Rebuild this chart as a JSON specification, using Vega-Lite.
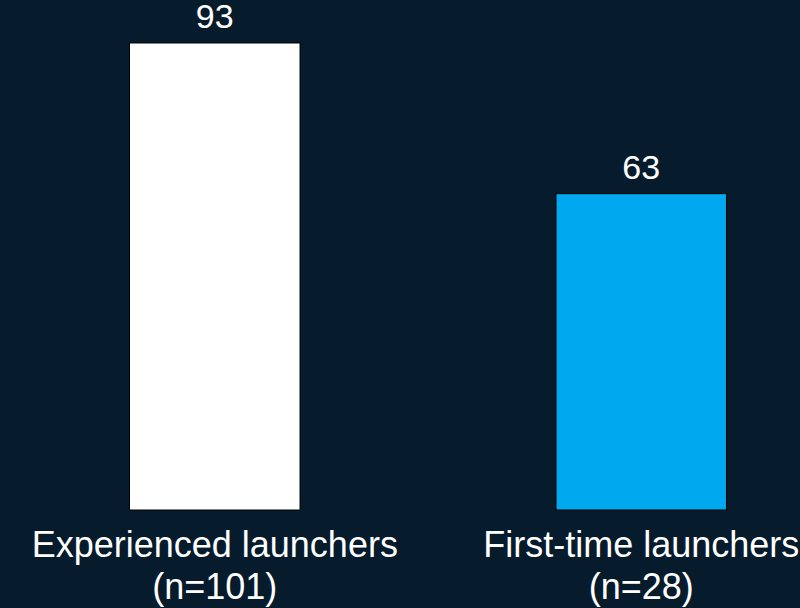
{
  "$schema": "https://vega.github.io/schema/vega-lite/v6.json",
  "width": 800,
  "height": 510,
  "autosize": "none",
  "padding": {"left": 0, "top": 0, "right": 0, "bottom": 98},
  "background": "#061b2b",
  "config": {"view": {"stroke": null}, "font": "Liberation Sans"},
  "data": {
    "values": [
      {"group": "Experienced launchers\n(n=101)", "value": 93},
      {"group": "First-time launchers\n(n=28)", "value": 63}
    ]
  },
  "encoding": {
    "x": {
      "field": "group",
      "type": "nominal",
      "sort": null,
      "scale": {"paddingInner": 0.6002, "paddingOuter": 0.238, "align": 0.638},
      "axis": {
        "title": null,
        "domain": false,
        "ticks": false,
        "tickSize": 0,
        "labelAngle": 0,
        "labelFontSize": 36,
        "labelColor": "#ffffff",
        "labelFont": "Liberation Sans",
        "labelBaseline": "top",
        "labelPadding": 18,
        "labelLineHeight": 42,
        "labelLimit": 0,
        "labelOverlap": false,
        "labelBound": false,
        "labelExpr": "split(datum.label, '\\n')"
      }
    },
    "y": {
      "field": "value",
      "type": "quantitative",
      "scale": {"domain": [0, 101.56], "nice": false},
      "axis": null
    }
  },
  "layer": [
    {
      "mark": {"type": "bar", "stroke": "#000000", "strokeWidth": 1},
      "encoding": {
        "color": {
          "field": "group",
          "type": "nominal",
          "scale": {
            "domain": ["Experienced launchers\n(n=101)", "First-time launchers\n(n=28)"],
            "range": ["#ffffff", "#00a8f0"]
          },
          "legend": null
        }
      }
    },
    {
      "mark": {"type": "text", "baseline": "alphabetic", "dy": -15, "fontSize": 34, "color": "#ffffff", "font": "Liberation Sans"},
      "encoding": {"text": {"field": "value", "type": "quantitative"}}
    }
  ]
}
